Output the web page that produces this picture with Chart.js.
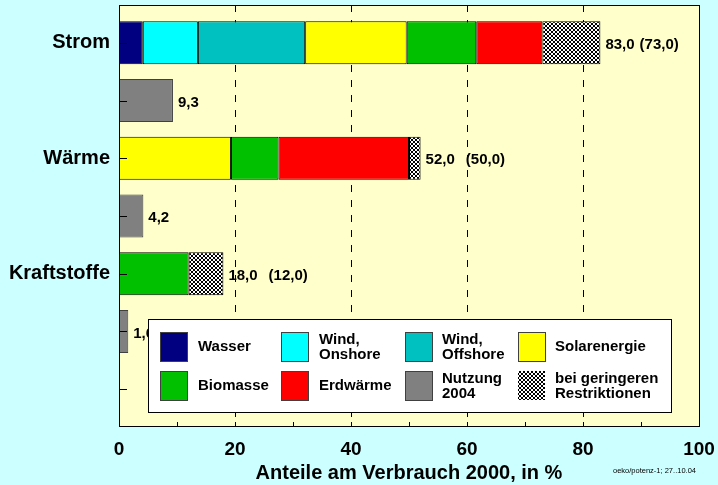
<!DOCTYPE html>
<html>
<head>
<meta charset="utf-8">
<script src="https://cdn.jsdelivr.net/npm/chart.js@4/dist/chart.umd.min.js"></script>
<style>
  body { margin: 0; background: #ccffff; }
  canvas { display: block; }
</style>
</head>
<body>
<canvas id="chart" width="718" height="485"></canvas>
<script>
// categories (empty rows hold the 2004 usage bars)
var categories = ["Strom", "", "Wärme", "", "Kraftstoffe", "", ""];

// Anteile am Verbrauch 2000, in %
var wasser      = [4.1,  null, null, null, null, null, null];
var windOn      = [9.5,  null, null, null, null, null, null];
var windOff     = [18.5, null, null, null, null, null, null];
var solar       = [17.5, null, 19.3, null, null, null, null];
var biomasse    = [12.0, null, 8.2,  null, 12.0, null, null];
var erdwaerme   = [11.4, null, 22.5, null, null, null, null];
var nutzung2004 = [null, 9.3,  null, 4.2,  null, 1.6,  null];
var restrikt    = [10.0, null, 2.0,  null, 6.0,  null, null];

var xTickValues = [0, 20, 40, 60, 80, 100];

var FONT = "'Liberation Sans', Arial, Helvetica, sans-serif";

var canvas = document.getElementById("chart");
var mainCtx = canvas.getContext("2d");

//fine black/white check for "bei geringeren Restriktionen"
function makeHatch() {
	var c = document.createElement("canvas");
	c.width = 4; c.height = 4;
	var g = c.getContext("2d");
	g.fillStyle = "#ffffff";
	g.fillRect(0, 0, 4, 4);
	g.fillStyle = "#000000";
	for (var i = 0; i < 4; i++) {
		g.fillRect(i, i, 1, 1);
		g.fillRect(3 - i, i, 1, 1);
	}
	return mainCtx.createPattern(c, "repeat");
}
var hatch = makeHatch();

function fmt(v) {
	return v.toFixed(1).replace(".", ",");
}

// gap between total and "(without restrictions)" per row, px
var noteGap = [5, 0, 11, 0, 11, 0, 0];

var frame = {
	id: "frame",
	beforeDatasetsDraw: function(chart) {
		var ctx = chart.ctx, a = chart.chartArea, x = chart.scales.x;
		var top = a.top - 9, bottom = a.bottom + 8;
		ctx.save();
		ctx.fillStyle = "#ffffcc";
		ctx.fillRect(a.left, top, a.right - a.left, bottom - top);
		ctx.strokeStyle = "#000";
		ctx.lineWidth = 1;
		ctx.setLineDash([7, 8]);
		xTickValues.forEach(function(v) {
			if (v == 0 || v == 100) return;
			var px = Math.round(x.getPixelForValue(v)) + 0.5;
			ctx.beginPath();
			ctx.moveTo(px, top);
			ctx.lineTo(px, bottom);
			ctx.stroke();
		});
		ctx.restore();
	},
	afterDatasetsDraw: function(chart) {
		var ctx = chart.ctx, a = chart.chartArea, x = chart.scales.x, y = chart.scales.y;
		var top = a.top - 9, bottom = a.bottom + 8;
		ctx.save();
		ctx.strokeStyle = "#000";
		ctx.lineWidth = 1;
		// plot border
		ctx.strokeRect(Math.round(a.left) + 0.5, top + 0.5, Math.round(a.right - a.left), bottom - top);
		// inner ticks on the category axis
		for (var i = 0; i < categories.length; i++) {
			var py = Math.round(y.getPixelForValue(i)) + 0.5;
			ctx.beginPath();
			ctx.moveTo(a.left, py);
			ctx.lineTo(a.left + 8, py);
			ctx.stroke();
		}
		// minor ticks on the bottom edge
		for (var v = 10; v < 100; v += 10) {
			var px = Math.round(x.getPixelForValue(v)) + 0.5;
			ctx.beginPath();
			ctx.moveTo(px, bottom);
			ctx.lineTo(px, bottom - 4);
			ctx.stroke();
		}

		// value labels
		ctx.fillStyle = "#000";
		ctx.font = "bold 15px " + FONT;
		ctx.textBaseline = "middle";
		ctx.textAlign = "left";
		for (var i = 0; i < categories.length; i++) {
			var total = 0;
			chart.data.datasets.forEach(function(ds) { if (ds.data[i] != null) total += ds.data[i]; });
			if (!total) continue;
			var lx = x.getPixelForValue(total) + 5;
			var ly = y.getPixelForValue(i) + 2;
			var t = fmt(total);
			ctx.fillText(t, lx, ly);
			if (restrikt[i] != null) {
				var w = ctx.measureText(t).width;
				ctx.fillText("(" + fmt(total - restrikt[i]) + ")", lx + w + noteGap[i], ly);
			}
		}

		// legend box
		var lx0 = 148, ly0 = 319, lw = 523, lh = 93;
		ctx.fillStyle = "#ffffff";
		ctx.fillRect(lx0, ly0, lw, lh);
		ctx.strokeStyle = "#000";
		ctx.strokeRect(lx0 + 0.5, ly0 + 0.5, lw, lh);
		var colSw = [160, 281, 405, 518];
		var colTx = [198, 319, 442, 555];
		var rowSw = [332, 371];
		ctx.font = "bold 15px " + FONT;
		chart.data.datasets.forEach(function(ds, k) {
			var c = k % 4, r = Math.floor(k / 4);
			ctx.fillStyle = ds.backgroundColor;
			ctx.fillRect(colSw[c], rowSw[r], 27, 29);
			if (ds.backgroundColor !== hatch) {
				ctx.strokeStyle = "#404040";
				ctx.strokeRect(colSw[c] + 0.5, rowSw[r] + 0.5, 27, 29);
			}
			ctx.fillStyle = "#000";
			var lines = ds.label.split("\n");
			var cy = rowSw[r] + 15;
			if (lines.length == 1) {
				ctx.fillText(lines[0], colTx[c], cy);
			} else {
				ctx.fillText(lines[0], colTx[c], cy - 7.5);
				ctx.fillText(lines[1], colTx[c], cy + 7.5);
			}
		});

		// source note
		ctx.font = "7.5px " + FONT;
		ctx.fillText("oeko/potenz-1; 27..10.04", 613, 471);
		ctx.restore();
	}
};

function seg(label, data, color, border) {
	return {
		label: label,
		data: data,
		backgroundColor: color,
		borderColor: border || "#000000",
		borderWidth: 1,
		borderSkipped: false,
		stack: "s"
	};
}

new Chart(mainCtx, {
	type: "bar",
	data: {
		labels: categories,
		datasets: [
			seg("Wasser", wasser, "#000080"),
			seg("Wind,\nOnshore", windOn, "#00ffff"),
			seg("Wind,\nOffshore", windOff, "#00c0c0"),
			seg("Solarenergie", solar, "#ffff00"),
			seg("Biomasse", biomasse, "#00c000"),
			seg("Erdwärme", erdwaerme, "#ff0000"),
			seg("Nutzung\n2004", nutzung2004, "#808080", "#404040"),
			seg("bei geringeren\nRestriktionen", restrikt, hatch)
		]
	},
	options: {
		indexAxis: "y",
		responsive: false,
		animation: false,
		events: [],
		categoryPercentage: 1,
		barPercentage: 0.745,
		layout: { padding: { top: 14, right: 19, left: 0, bottom: 0 } },
		plugins: {
			legend: { display: false },
			tooltip: { enabled: false }
		},
		scales: {
			x: {
				stacked: true,
				min: 0,
				max: 100,
				afterBuildTicks: function(scale) {
					scale.ticks = xTickValues.map(function(v) { return { value: v }; });
				},
				afterFit: function(scale) {
					scale.height = 67;
					scale.paddingLeft = 0;
					scale.paddingRight = 0;
				},
				grid: { display: false },
				border: { display: false },
				ticks: {
					color: "#000",
					padding: 12,
					maxRotation: 0,
					font: { family: FONT, size: 19, weight: "bold" }
				},
				title: {
					display: true,
					text: "Anteile am Verbrauch 2000, in %",
					color: "#000",
					padding: 0,
					font: { family: FONT, size: 20, weight: "bold" }
				}
			},
			y: {
				stacked: true,
				afterFit: function(scale) {
					scale.width = 119;
					scale.paddingTop = 0;
					scale.paddingBottom = 0;
				},
				grid: { display: false },
				border: { display: false },
				ticks: {
					color: "#000",
					padding: 1,
					autoSkip: false,
					font: { family: FONT, size: 20, weight: "bold" }
				}
			}
		}
	},
	plugins: [frame]
});
</script>
</body>
</html>
